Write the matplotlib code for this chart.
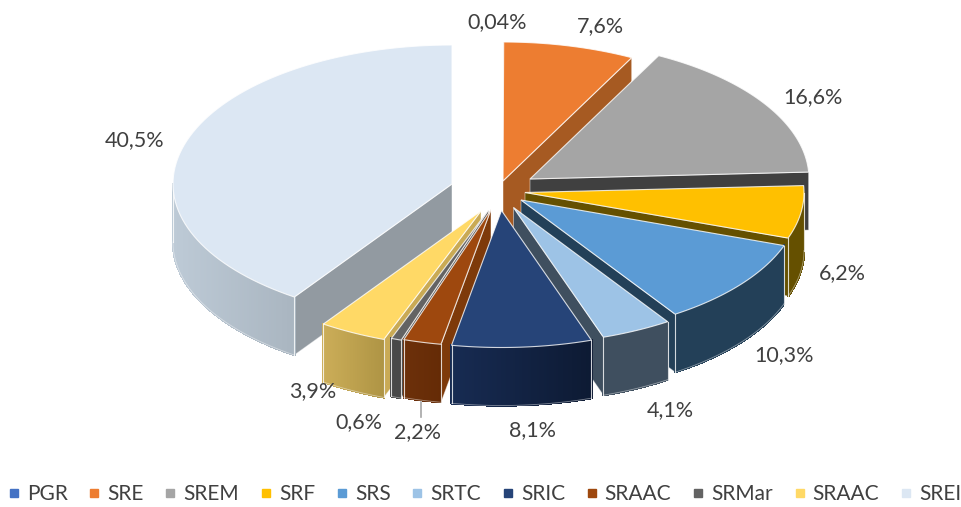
import numpy as np
import matplotlib
matplotlib.use("Agg")
import matplotlib.pyplot as plt
from matplotlib.colors import to_rgb
from matplotlib.collections import PolyCollection
from matplotlib.lines import Line2D
from matplotlib.patches import Polygon

plt.rcParams["font.family"] = ["Lato", "DejaVu Sans"]

# ---- data ----
names = ["PGR", "SRE", "SREM", "SRF", "SRS", "SRTC", "SRIC", "SRAAC", "SRMar", "SRAAC", "SREI"]
values = [0.04, 7.6, 16.6, 6.2, 10.3, 4.1, 8.1, 2.2, 0.6, 3.9, 40.5]
value_labels = ["0,04%", "7,6%", "16,6%", "6,2%", "10,3%", "4,1%", "8,1%", "2,2%", "0,6%", "3,9%", "40,5%"]

# ---- style ----
top_colors = ["#4472C4", "#ED7D31", "#A5A5A5", "#FFC000", "#5B9BD5", "#9DC3E6",
              "#264478", "#9E480E", "#636363", "#FFD966", "#DCE7F3"]
face_colors = ["#2A4676", "#A65A22", "#404040", "#655000", "#234058", "#3F4F5F",
               "#162A4E", "#7E3A0A", "#4A4A4A", "#C9AA55", "#929AA1"]
wall_left = ["#2A4676", "#A65A22", "#404040", "#655000", "#234058", "#3F4F5F",
             "#172B52", "#6C300A", "#484848", "#CBAD58", "#BDCAD6"]
wall_right = ["#2A4676", "#A65A22", "#404040", "#655000", "#234058", "#3F4F5F",
              "#0D1A33", "#652B06", "#484848", "#AE9444", "#A9B5C0"]
apex_x = [503, 503, 530, 525, 521, 513.5, 501.5, 491, 488.5, 481, 452]
apex_y = [181, 181, 179, 192.5, 200, 207.5, 210.5, 209.5, 210, 211, 184]
label_x = [497, 600, 813, 842, 784, 670, 533, 418, 359, 313, 135]
label_y = [22, 26, 97, 273, 355, 410, 430, 432, 422, 391, 140]
RX, RY_BACK, RY_FRONT, DEPTH = 279, 139, 137, 58
EDGE = (1, 1, 1, 0.8)
EDGE_SOFT = (1, 1, 1, 0.45)
TEXT = "#404040"

fig = plt.figure(figsize=(9.62, 5.07), dpi=100, facecolor="white")
ax = fig.add_axes([0, 0, 1, 1])
ax.set_xlim(0, 962)
ax.set_ylim(507, 0)
ax.axis("off")

fractions = np.array(values) / np.sum(values)
ends = np.cumsum(fractions) * 360
starts = ends - fractions * 360


def rim(cx, cy, theta):
    t = np.radians(theta)
    c = np.cos(t)
    return cx + RX * np.sin(t), cy - np.where(c > 0, RY_BACK, RY_FRONT) * c


def draw_face(cx, cy, theta, color, z):
    x, y = rim(cx, cy, theta)
    pts = [(cx, cy), (x, y), (x, y + DEPTH), (cx, cy + DEPTH)]
    ax.add_patch(Polygon(pts, closed=True, facecolor=color, edgecolor=EDGE_SOFT, lw=0.7, zorder=z))


def draw_slice(i, z):
    cx, cy = apex_x[i], apex_y[i]
    a, b = starts[i], ends[i]
    # cut faces that look towards the viewer
    if np.sin(np.radians(a)) < 0:
        draw_face(cx, cy, a, face_colors[i], z)
    if np.sin(np.radians(b)) > 0:
        draw_face(cx, cy, b, face_colors[i], z)
    # outer wall, only the part turned to the viewer
    lo, hi = max(a, 90), min(b, 270)
    if hi > lo:
        th = np.linspace(lo, hi, 80)
        xs, ys = rim(cx, cy, th)
        quads, cols = [], []
        c0, c1 = np.array(to_rgb(wall_left[i])), np.array(to_rgb(wall_right[i]))
        x0, x1 = xs.min(), xs.max()
        for k in range(len(th) - 1):
            quads.append([(xs[k], ys[k]), (xs[k + 1], ys[k + 1]),
                          (xs[k + 1], ys[k + 1] + DEPTH), (xs[k], ys[k] + DEPTH)])
            w = ((xs[k] + xs[k + 1]) / 2 - x0) / max(x1 - x0, 1e-6)
            cols.append(c0 + (c1 - c0) * w)
        ax.add_collection(PolyCollection(quads, facecolors=cols, edgecolors=cols, lw=1.0,
                                         antialiaseds=False, zorder=z))
        ax.plot(xs, ys + DEPTH, color=EDGE_SOFT, lw=0.6, zorder=z)
        ax.plot([xs[0], xs[0]], [ys[0], ys[0] + DEPTH], color=EDGE, lw=0.8, zorder=z)
        ax.plot([xs[-1], xs[-1]], [ys[-1], ys[-1] + DEPTH], color=EDGE, lw=0.8, zorder=z)
    # top
    th = np.linspace(a, b, 80)
    xs, ys = rim(cx, cy, th)
    pts = [(cx, cy)] + list(zip(xs, ys))
    ax.add_patch(Polygon(pts, closed=True, facecolor=top_colors[i], edgecolor=EDGE, lw=0.8, zorder=z + 0.5))


# painter's order: far slices first
mids = (starts + ends) / 2
order = np.argsort(-np.abs(mids - 180))
for z, i in enumerate(order):
    draw_slice(i, 2 + z)

# leader line of the 2,2% label
ax.plot([label_x[7] + 3, label_x[7] + 3], [label_y[7] - 30, label_y[7] - 15], color="#A6A6A6", lw=1.2, zorder=30)

for x, y, s in zip(label_x, label_y, value_labels):
    ax.text(x, y, s, ha="center", va="center", fontsize=15.5, color=TEXT, zorder=40)

handles = [Line2D([], [], marker="s", linestyle="none", markersize=5.8, color=c) for c in top_colors]
ax.legend(handles, names, loc="center", bbox_to_anchor=(484.5 / 962, 1 - 494 / 507), ncol=11,
          frameon=False, fontsize=15, labelcolor=TEXT, handlelength=0.55, handletextpad=0.35,
          columnspacing=1.01, borderpad=0)

fig.savefig("out.png", dpi=100, facecolor="white")
